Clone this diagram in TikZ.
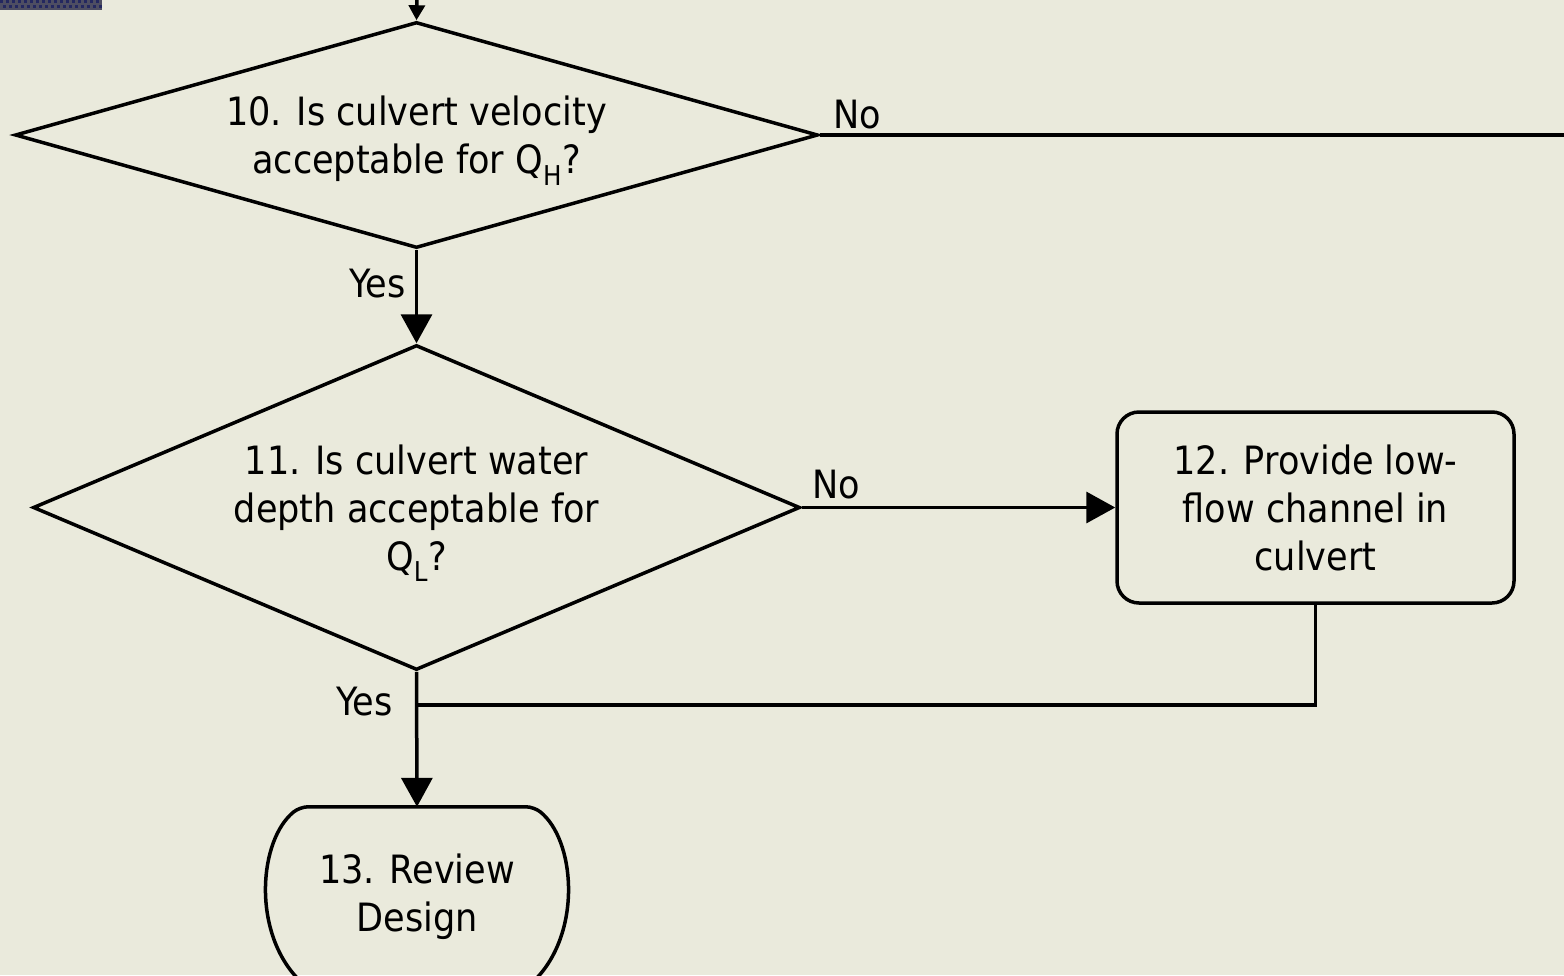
\documentclass[tikz,border=0pt]{standalone}
\usepackage{fontspec}
\setmainfont{DejaVu Sans Condensed}
\usetikzlibrary{shapes.geometric,arrows.meta}
\definecolor{bg}{RGB}{234,234,220}
\definecolor{stripbase}{RGB}{78,78,98}
\definecolor{stripsq}{RGB}{36,40,96}
\newcommand{\lowerstrut}{\rule{0pt}{41pt}}
\begin{document}
\begin{tikzpicture}[x=1pt,y=-1pt,
  line/.style={line width=3.5pt},
  arr/.style={line, -{Triangle[length=29pt,width=31pt]}},
  smallarr/.style={line, -{Triangle[length=15pt,width=16pt]}},
  txt/.style={font=\fontsize{39}{48}\selectfont, align=center},
  lbl/.style={font=\fontsize{39}{48}\selectfont, inner sep=0pt},
  decision/.style={diamond, draw, line width=3.5pt, inner sep=0pt, txt},
  procbox/.style={rectangle, rounded corners=22pt, draw, line width=3.5pt, inner sep=0pt, txt},
]
\useasboundingbox (0,0) rectangle (1564,975);
\fill[bg] (0,0) rectangle (1564,975);
% decorative strip
\fill[stripbase] (0,0) rectangle (102,10);
\foreach \i in {0,...,16}{
  \fill[stripsq] (\i*6,0) rectangle ++(3,3);
  \fill[stripsq] (\i*6+3,5) rectangle ++(3,3);
}

\node[decision, aspect=3.55, minimum width=803pt, minimum height=226pt] (d10) at (416.5,135)
  {\lowerstrut 10. Is culvert velocity\\acceptable for Q\textsubscript{H}?};
\node[decision, aspect=2.36, minimum width=767pt, minimum height=325pt] (d11) at (416.5,507.5)
  {\lowerstrut 11. Is culvert water\\depth acceptable for\\Q\textsubscript{L}?};
\node[procbox, minimum width=397pt, minimum height=191pt] (p12) at (1315.5,507.5)
  {12. Provide low-\\flow channel in\\culvert};
\node[txt, inner sep=0pt, minimum width=300pt, minimum height=180pt] (t13) at (417,897)
  {13. Review\\Design};
% terminal outline
\draw[line, rounded corners=8pt] ([xshift=-120pt,yshift=-171pt]t13.north)
  .. controls ([xshift=-165pt,yshift=-123pt]t13.north) and ([xshift=-158pt,yshift=-33pt]t13.north) .. ([xshift=-117pt]t13.north)
  -- ([xshift=117pt]t13.north)
  .. controls ([xshift=158pt,yshift=-33pt]t13.north) and ([xshift=165pt,yshift=-123pt]t13.north) .. ([xshift=120pt,yshift=-171pt]t13.north);

\coordinate (in10) at (417,-2);
\coordinate (out10) at (1566,135);
\coordinate (join) at (417,705);

\draw[smallarr] (in10) -- (d10.north);
\draw[line] (d10.east) -- (out10);
\draw[arr] (d10.south) -- (d11.north);
\draw[arr] (d11.east) -- (p12.west);
\draw[line] (p12.south) |- (join);
\draw[arr] (d11.south) -- (t13.north);

\node[lbl, anchor=west] (no10) at (833,115) {No};
\node[lbl, anchor=east] (yes10) at (406,284) {Yes};
\node[lbl, anchor=west] (no11) at (812,485) {No};
\node[lbl, anchor=east] (yes11) at (393,702) {Yes};
\end{tikzpicture}
\end{document}
